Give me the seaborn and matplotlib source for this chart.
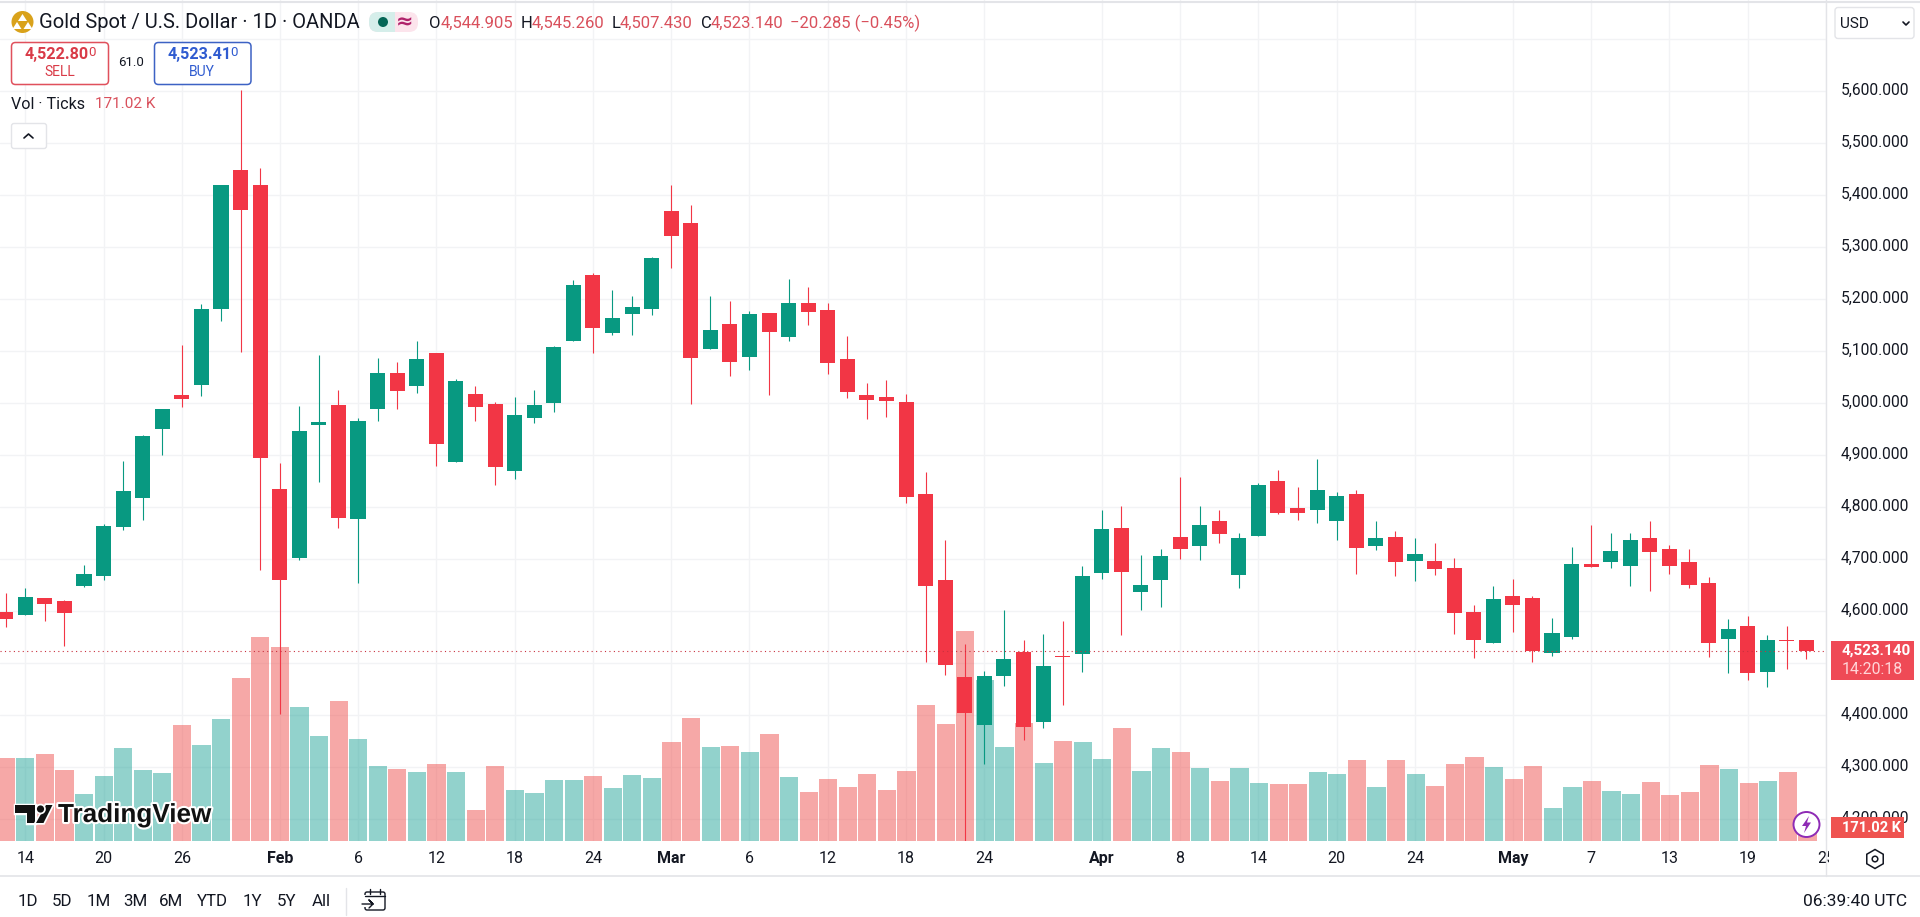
# Gold spot daily candles with volume, TradingView style

import matplotlib
matplotlib.use("Agg")
import matplotlib.pyplot as plt
from matplotlib.patches import Circle, Ellipse, FancyBboxPatch, Polygon, Rectangle, RegularPolygon
from matplotlib.transforms import Affine2D
import matplotlib.patheffects as pe
import pandas as pd
import seaborn as sns

# OHLC, one value per daily bar
open_px = [4599, 4592, 4625, 4620, 4649, 4668, 4762, 4817, 4951, 5016, 5036, 5182, 5449, 5420, 4835, 4703,
           4959, 4997, 4778, 4990, 5058, 5034, 5097, 4887, 5018, 4999, 4870, 4972, 5001, 5119, 5247, 5136,
           5172, 5182, 5370, 5347, 5105, 5153, 5090, 5174, 5128, 5193, 5179, 5085, 5016, 5012, 5003, 4826,
           4660, 4474, 4382, 4476, 4522, 4387, 4514, 4517, 4674, 4760, 4638, 4661, 4743, 4726, 4774, 4670,
           4745, 4851, 4799, 4794, 4774, 4825, 4726, 4743, 4696, 4697, 4683, 4599, 4540, 4629, 4626, 4520,
           4551, 4691, 4694, 4688, 4741, 4720, 4695, 4655, 4546, 4572, 4484, 4544.5, 4544.905]
high_px = [4635, 4644, 4625, 4621, 4690, 4767, 4889, 4940, 4990, 5112, 5191, 5420, 5603, 5453, 4885, 4995,
           5093, 5026, 4972, 5087, 5080, 5120, 5097, 5047, 5033, 5003, 5013, 5025, 5111, 5238, 5250, 5218,
           5206, 5281, 5420, 5381, 5206, 5197, 5177, 5174, 5239, 5224, 5192, 5129, 5039, 5045, 5018, 4868,
           4737, 4537, 4485, 4603, 4544, 4556, 4581, 4688, 4794, 4803, 4708, 4719, 4858, 4802, 4794, 4750,
           4847, 4871, 4839, 4893, 4829, 4833, 4774, 4755, 4741, 4731, 4703, 4612, 4649, 4662, 4630, 4587,
           4724, 4766, 4751, 4751, 4774, 4727, 4720, 4666, 4585, 4591, 4554, 4572, 4545.26]
low_px = [4570, 4592, 4582, 4534, 4647, 4661, 4757, 4776, 4900, 4992, 5015, 5159, 5099, 4680, 4403, 4698,
          4849, 4761, 4655, 4966, 4990, 5020, 4880, 4887, 4966, 4842, 4855, 4963, 4983, 5119, 5096, 5131,
          5132, 5169, 5261, 4998, 5105, 5053, 5064, 5016, 5119, 5151, 5056, 5010, 4969, 4974, 4809, 4503,
          4478, 4158, 4307, 4457, 4353, 4376, 4419, 4484, 4663, 4555, 4603, 4609, 4701, 4699, 4731, 4645,
          4745, 4788, 4775, 4769, 4738, 4671, 4717, 4667, 4659, 4669, 4557, 4511, 4540, 4561, 4503, 4515,
          4547, 4686, 4684, 4649, 4640, 4671, 4645, 4513, 4481, 4467, 4455, 4489, 4507.43]
close_px = [4586, 4628, 4615, 4596, 4672, 4764, 4831, 4937, 4989, 5009, 5181, 5420, 5371, 4895, 4661, 4947,
            4965, 4780, 4966, 5058, 5024, 5085, 4922, 5043, 4992, 4878, 4978, 4997, 5109, 5228, 5144, 5164,
            5185, 5279, 5322, 5088, 5141, 5080, 5172, 5138, 5193, 5176, 5078, 5021, 5007, 5005, 4819, 4649,
            4497, 4404, 4476, 4508, 4378, 4495, 4512.5, 4668, 4758, 4676, 4651, 4706, 4719, 4766, 4749, 4741,
            4843, 4790, 4790, 4833, 4822, 4721, 4741, 4694, 4710, 4682, 4596, 4544, 4624, 4613, 4524, 4558,
            4691, 4686, 4716, 4737, 4715, 4688, 4651, 4540, 4566, 4482, 4545, 4543, 4523.14]
# tick volume in thousands
volume_k = [1065, 1065, 1116, 911, 603, 834, 1193, 911, 872, 1488, 1231, 1565, 2091, 2617, 2488, 1719,
            1347, 1796, 1308, 962, 924, 885, 988, 885, 398, 962, 654, 616, 782, 782, 834, 680,
            847, 808, 1270, 1578, 1206, 1219, 1142, 1372, 821, 629, 795, 693, 859, 654, 898, 1744,
            1501, 2694, 2065, 1206, 1514, 1000, 1283, 1270, 1052, 1449, 898, 1193, 1142, 936, 770, 936,
            744, 731, 731, 885, 859, 1039, 693, 1039, 859, 705, 988, 1077, 949, 795, 962, 423,
            693, 770, 641, 603, 757, 590, 629, 975, 924, 744, 770, 885, 171.02]

date_bars = [1, 5, 9, 14, 18, 22, 26, 30, 34, 38, 42, 46, 50, 56, 60, 64, 68, 72, 77, 81, 85, 89, 93]
date_labels = ["14", "20", "26", "Feb", "6", "12", "18", "24", "Mar", "6", "12", "18", "24", "Apr", "8",
               "14", "20", "24", "May", "7", "13", "19", "25"]
month_labels = ["Feb", "Mar", "Apr", "May"]
price_ticks = [4200, 4300, 4400, 4500, 4600, 4700, 4800, 4900, 5000, 5100, 5200, 5300, 5400, 5500, 5600, 5700]
hidden_prices = [4500, 5700]  # sit behind the price tag and the currency button
range_buttons = ["1D", "5D", "1M", "3M", "6M", "YTD", "1Y", "5Y", "All"]

UP = "#089981"
DOWN = "#F23645"
INK = "#131722"
GRID = "#F2F3F5"
EDGE = "#E3E4E8"
FONT = ["Roboto", "DejaVu Sans"]

sns.set_theme(style="white")
plt.rcParams["font.family"] = FONT

df = pd.DataFrame({"bar": range(len(close_px)), "open": open_px, "high": high_px, "low": low_px,
                   "close": close_px, "volume": volume_k})
df["side"] = ["up" if c >= o else "down" for o, c in zip(df["open"], df["close"])]
df["top"] = df[["open", "close"]].max(axis=1)
df["bottom"] = df[["open", "close"]].min(axis=1)

W, H = 1920, 917
PANE_R, PANE_B = 1826, 841
rect = [0, 1 - PANE_B / H, PANE_R / W, PANE_B / H]
xlim = (-0.292, 92.95)
ylim = (4158.3, 5775.6)

fig = plt.figure(figsize=(W / 100, H / 100), dpi=100, facecolor="white")

# three layers: grid at the back, volume in the middle, candles on top
ax_grid = fig.add_axes(rect)
ax_vol = fig.add_axes(rect, facecolor="none")
ax = fig.add_axes(rect, facecolor="none")

ax_grid.set_xlim(xlim)
ax_grid.set_ylim(ylim)
ax_grid.set_xticks(date_bars)
ax_grid.set_yticks(price_ticks)
ax_grid.set_xticklabels([])
ax_grid.set_yticklabels([])
ax_grid.grid(True, color=GRID, lw=1)
ax_grid.tick_params(length=0)
for s in ax_grid.spines.values():
    s.set_visible(False)

sns.barplot(data=df, x="bar", y="volume", hue="side", hue_order=["up", "down"],
            palette={"up": "#26A69A", "down": "#EF5350"}, native_scale=True, dodge=False,
            width=0.93, saturation=1, alpha=0.5, linewidth=0, legend=False, ax=ax_vol)
ax_vol.set_xlim(xlim)
ax_vol.set_ylim(0, 10786)
ax_vol.axis("off")

for side, color in [("up", UP), ("down", DOWN)]:
    part = df[df["side"] == side]
    ax.vlines(part["bar"], part["low"], part["high"], color=color, lw=0.8)
    sns.barplot(x=part["bar"].values, y=(part["top"] - part["bottom"]).values, bottom=part["bottom"].values,
                native_scale=True, width=0.77, color=color, saturation=1, linewidth=0, ax=ax)

ax.axhline(close_px[-1], color="#C9303E", lw=0.8, ls=(0, (1, 3)))
ax.set_xlim(xlim)
ax.set_ylim(ylim)
ax.set_xlabel("")
ax.set_ylabel("")
ax.yaxis.tick_right()
ax.set_yticks(price_ticks)
ax.set_yticklabels(["" if p in hidden_prices else f"{p:,.3f}" for p in price_ticks], fontsize=11.2, color=INK)
ax.set_xticks(date_bars)
ax.set_xticklabels(date_labels, fontsize=11.5, color=INK)
for t in ax.get_xticklabels():
    if t.get_text() in month_labels:
        t.set_fontweight("bold")
ax.tick_params(axis="y", length=0, pad=10.5)
ax.tick_params(axis="x", length=0, pad=7.5)
# price labels sit a little above their gridlines
for t in ax.get_yticklabels():
    t.set_transform(t.get_transform() + Affine2D().translate(0, 2))
for s in ax.spines.values():
    s.set_visible(False)

# interface chrome in pixel coordinates, on top of everything
ui = fig.add_axes([0, 0, 1, 1], facecolor="none")
ui.set_xlim(0, W)
ui.set_ylim(H, 0)
ui.axis("off")


def label(x, y, s, color=INK, size=11.5, ha="left", weight="normal", **kw):
    return ui.text(x, y, s, color=color, fontsize=size, ha=ha, va="center", fontweight=weight, **kw)


def box(x0, y0, x1, y1, edge, face="white", lw=1, r=4):
    ui.add_patch(FancyBboxPatch((x0, y0), x1 - x0, y1 - y0, boxstyle=f"round,pad=0,rounding_size={r}",
                                fc=face, ec=edge, lw=lw, mutation_aspect=1))


# clip the last date label at the scale edge
ui.add_patch(Rectangle((1829, 845), W - 1829, 30, fc="white", ec="none"))

ui.plot([0, W], [1.5, 1.5], color=EDGE, lw=1.5)
ui.plot([0, W], [876.3, 876.3], color=EDGE, lw=1.2)
ui.plot([PANE_R, PANE_R], [0, 876], color=EDGE, lw=1)

# header
ui.add_patch(Circle((22.5, 22), 11, fc="#D9A21B", ec="none"))
ui.add_patch(Polygon([(22.5, 14), (27, 21), (18, 21)], fc="white", ec="none"))
ui.add_patch(Polygon([(17, 22), (21.5, 29), (12.5, 29)], fc="white", ec="none"))
ui.add_patch(Polygon([(28, 22), (32.5, 29), (23.5, 29)], fc="white", ec="none"))
label(39, 23, "Gold Spot / U.S. Dollar · 1D · OANDA", size=14.5)

box(369, 12, 418, 32, "none", "#FCE4EC", r=9)
box(369, 12, 395, 32, "none", "#D5EEEA", r=9)
ui.add_patch(Rectangle((388, 12), 7, 20, fc="#D5EEEA", ec="none"))
ui.add_patch(Circle((383, 22), 5, fc="#056656", ec="none"))
label(405, 22, "≈", color="#B0226B", size=15, ha="center", family="DejaVu Sans", weight="bold")

red_txt = "#D9505C"
label(429, 23, "O", size=12)
label(441, 23, "4,544.905", red_txt, 12)
label(520.5, 23, "H", size=12)
label(532, 23, "4,545.260", red_txt, 12)
label(612, 23, "L", size=12)
label(620, 23, "4,507.430", red_txt, 12)
label(700.5, 23, "C", size=12)
label(711, 23, "4,523.140", red_txt, 12)
label(790.5, 23, "−20.285 (−0.45%)", red_txt, 12)

# sell / buy boxes
box(11.5, 42.5, 108.5, 84.5, "#E0505C", lw=1.1)
label(25, 54, "4,522.80", "#D93A47", 11.6, weight="bold")
label(88, 53, "0", "#D93A47", 9.5)
label(60, 72, "SELL", "#D93A47", 10, ha="center")
label(131.5, 62.5, "61.0", size=9.5, ha="center")
box(154.5, 42.5, 251, 84.5, "#3D62C4", lw=1.1)
label(167.5, 54, "4,523.41", "#2F5BD0", 11.6, weight="bold")
label(230, 53, "0", "#2F5BD0", 9.5)
label(202, 72, "BUY", "#2F5BD0", 10, ha="center")

label(11, 104.5, "Vol · Ticks", size=11.6)
label(95, 104.5, "171.02 K", red_txt, 11)
box(11.5, 123.5, 46.5, 148.5, EDGE, r=2.5)
ui.plot([24, 28.5, 33], [138, 134, 138], color=INK, lw=1.2)

box(1835, 7.5, 1914, 38.5, EDGE, r=3)
label(1840, 23.5, "USD", size=11)
ui.plot([1903, 1906, 1909], [22, 25, 22], color=INK, lw=1.2)

# price and volume tags on the scale
ui.add_patch(Rectangle((1831, 641), 83, 39, fc="#EF4A56", ec="none"))
label(1841.5, 650.5, "4,523.140", "white", 11, weight="bold")
label(1841.5, 669, "14:20:18", "#FFD5D8", 11.4)
ui.add_patch(Rectangle((1831, 817), 73, 21, fc="#EF5350", ec="none"))
label(1841.5, 827.5, "171.02 K", "white", 10.5, weight="bold")

ui.add_patch(Ellipse((1806.5, 824.5), 26, 25, fc="white", ec="#8E2BB5", lw=1.4))
ui.add_patch(Polygon([(1809, 816), (1802, 826), (1806, 826), (1804, 833), (1811, 822.5), (1807, 822.5)],
                     fc="#8E2BB5", ec="none"))
ui.add_patch(RegularPolygon((1875, 859), 6, radius=9.5, fc="none", ec=INK, lw=1.1))
ui.add_patch(Circle((1875, 859), 2.8, fc="none", ec=INK, lw=1.1))

# TradingView watermark
wm = [pe.withStroke(linewidth=3, foreground="white")]
label(58, 815, "TradingView", "#111111", 18.8, weight="bold", path_effects=wm, family="Liberation Sans")
logo = dict(fc="#111111", ec="none", path_effects=[pe.withStroke(linewidth=2.5, foreground="white")])
ui.add_patch(Polygon([(15, 805), (35, 805), (35, 823), (26.5, 823), (26.5, 813), (15, 813)], **logo))
ui.add_patch(Polygon([(46, 805), (52.5, 805), (43.5, 823), (36, 823)], **logo))
ui.add_patch(Circle((40.5, 809), 3.6, **logo))

# bottom toolbar
for name, cx in zip(range_buttons, [28, 62.5, 99, 135, 171.5, 212.5, 252.5, 286.5, 321.5]):
    label(cx, 901, name, size=12.2, ha="center")
ui.plot([345.7, 345.7], [888, 915], color=EDGE, lw=1)
box(365, 892, 385, 910, INK, face="none", lw=1, r=2)
ui.add_patch(Rectangle((362, 895), 10, 12, fc="white", ec="none"))
ui.plot([365, 385], [896, 896], color=INK, lw=1)
ui.plot([370, 370], [889, 894], color=INK, lw=1)
ui.plot([380, 380], [889, 894], color=INK, lw=1)
ui.plot([362, 373, 369, 373, 369], [904, 904, 900, 904, 908], color=INK, lw=1)
label(1907, 901, "06:39:40 UTC", size=12.5, ha="right")

fig.savefig("out.png", dpi=100)
